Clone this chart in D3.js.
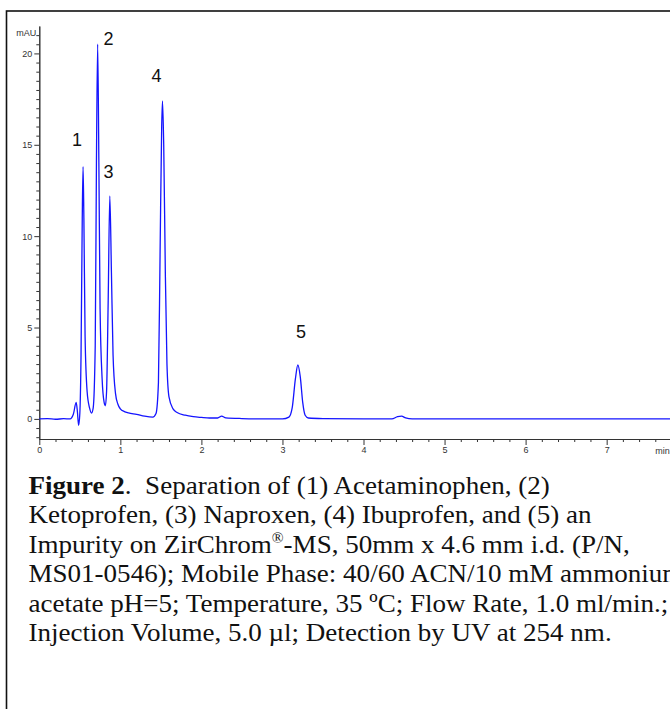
<!DOCTYPE html>
<html>
<head>
<meta charset="utf-8">
<script src="https://cdn.jsdelivr.net/npm/d3@7"></script>
<style>
  body { margin: 0; background: #fff; }
  svg { display: block; }
  .axis path, .axis line { stroke: #333; }
  .axis text { fill: #333; font-family: Arial, 'Liberation Sans', sans-serif; font-size: 9px; }
  .peak { font-family: Arial, 'Liberation Sans', sans-serif; font-size: 18px; fill: #111; }
  .caption { font-family: 'Liberation Serif', 'Times New Roman', serif; font-size: 26px; fill: #111; white-space: pre; }
</style>
</head>
<body>
<div id="chart"></div>
<script>
// chromatogram trace (time in min, signal in mAU)
const time = [0, 0.1, 0.2, 0.3, 0.38, 0.42, 0.455, 0.47, 0.485, 0.5, 0.515, 0.53, 0.54, 0.55, 0.565, 0.59, 0.62, 0.645,
  0.665, 0.69, 0.705, 0.72, 0.735, 0.75, 0.775, 0.8, 0.815, 0.83, 0.85, 0.87, 0.89, 0.91, 0.94, 0.97, 1.0, 1.05, 1.1,
  1.2, 1.3, 1.4, 1.44, 1.47, 1.49, 1.51, 1.52, 1.535, 1.555, 1.575, 1.6, 1.65, 1.7, 1.8, 1.9, 2.0, 2.1, 2.2, 2.25,
  2.3, 2.5, 2.8, 3.0, 3.08, 3.12, 3.16, 3.19, 3.22, 3.25, 3.28, 3.32, 3.5, 4.0, 4.35, 4.42, 4.47, 4.52, 4.6, 5, 6, 7, 7.8]
const signal = [0, 0.02, -0.02, 0.01, 0, 0.25, 0.9, 0.4, -0.35, 0.3, 3.5, 11, 13.8, 11, 4.5, 1.5, 0.6, 0.32,
  0.6, 4, 14, 20.5, 14, 6, 2.2, 0.9, 0.72, 1.5, 6.5, 12.2, 8, 3.5, 1.4, 0.8, 0.55, 0.4, 0.33,
  0.25, 0.15, 0.1, 0.3, 2, 9, 16, 17.4, 15, 8, 3, 1.2, 0.55, 0.35, 0.2, 0.12, 0.08, 0.05, 0.05, 0.15,
  0.06, 0.02, 0, 0, 0.1, 0.6, 2.2, 2.95, 2.3, 0.9, 0.2, 0.05, 0.02, 0, 0, 0.12, 0.15, 0.05, 0, 0, 0, 0, 0]

// peak labels, anchored in data units
const peakNames = ['1', '2', '3', '4', '5']
const labelTime = [0.465, 0.854, 0.854, 1.446, 3.229]
const labelSignal = [14.94, 20.47, 13.19, 18.45, 4.43]

const xTicks = [0, 1, 2, 3, 4, 5, 6, 7]
const yTicks = [0, 5, 10, 15, 20]

const captionLines = [
  [['Figure 2', 'bold'], ['.  Separation of (1) Acetaminophen, (2)', '']],
  [['Ketoprofen, (3) Naproxen, (4) Ibuprofen, and (5) an', '']],
  [['Impurity on ZirChrom', ''], ['®', 'sup'], ['-MS, 50mm x 4.6 mm i.d. (P/N,', '']],
  [['MS01-0546); Mobile Phase: 40/60 ACN/10 mM ammonium', '']],
  [['acetate pH=5; Temperature, 35 ºC; Flow Rate, 1.0 ml/min.;', '']],
  [['Injection Volume, 5.0 µl; Detection by UV at 254 nm.', '']]
]

const width = 670
const height = 709
const margin = {top: 26, right: 0, bottom: 270, left: 39.3}

const data = time.map(function (t, i) { return {x: t, y: signal[i]} })

const x = d3.scaleLinear().domain([0, 7.8]).range([margin.left, width + 1.5])
const y = d3.scaleLinear().domain([-1.1, 21.5]).range([height - margin.bottom, margin.top])

const svg = d3.select('#chart').append('svg')
    .attr('width', width)
    .attr('height', height)

// outer frame
svg.append('rect')
    .attr('x', 6.5).attr('y', 11)
    .attr('width', width + 20).attr('height', height + 20)
    .attr('fill', 'none').attr('stroke', '#111').attr('stroke-width', 1.6)

// minor ticks
const xMinor = d3.range(0, 7.81, 0.2).filter(function (v) { return Math.abs(v - Math.round(v)) > 0.01 })
const yMinor = d3.range(-1, 21.01, 0.5).filter(function (v) { return Math.abs(v / 5 - Math.round(v / 5)) > 0.01 })

svg.append('g')
    .attr('class', 'x axis minor')
    .attr('transform', 'translate(0,' + y.range()[0] + ')')
    .call(d3.axisBottom(x).tickValues(xMinor).tickSize(3).tickFormat('').tickSizeOuter(0))

svg.append('g')
    .attr('class', 'x axis')
    .attr('transform', 'translate(0,' + y.range()[0] + ')')
    .call(d3.axisBottom(x).tickValues(xTicks).tickSize(6).tickSizeOuter(0).tickPadding(2))

svg.append('g')
    .attr('class', 'y axis minor')
    .attr('transform', 'translate(' + x.range()[0] + ',0)')
    .call(d3.axisLeft(y).tickValues(yMinor).tickSize(3).tickFormat('').tickSizeOuter(0))

svg.append('g')
    .attr('class', 'y axis')
    .attr('transform', 'translate(' + x.range()[0] + ',0)')
    .call(d3.axisLeft(y).tickValues(yTicks).tickSize(5).tickSizeOuter(0).tickPadding(2))

svg.append('text')
    .attr('x', x.range()[0] - 3).attr('y', y.range()[1] + 10)
    .attr('text-anchor', 'end')
    .style('font-family', 'Arial, sans-serif').style('font-size', '9px').style('fill', '#333')
    .text('mAU')

svg.append('text')
    .attr('x', x(7.6)).attr('y', y.range()[0] + 15)
    .style('font-family', 'Arial, sans-serif').style('font-size', '9px').style('fill', '#333')
    .text('min')

// the trace
const line = d3.line()
    .x(function (d) { return x(d.x) })
    .y(function (d) { return y(d.y) })
    .curve(d3.curveMonotoneX)

svg.append('path')
    .datum(data)
    .attr('d', line)
    .attr('fill', 'none')
    .attr('stroke', '#1414ff')
    .attr('stroke-width', 1.3)

svg.selectAll('.peak')
    .data(peakNames)
  .enter().append('text')
    .attr('class', 'peak')
    .attr('x', function (d, i) { return x(labelTime[i]) })
    .attr('y', function (d, i) { return y(labelSignal[i]) })
    .attr('text-anchor', 'middle')
    .text(function (d) { return d })

// caption
const cap = svg.append('g').attr('transform', 'translate(28.5,494) scale(1.04,1)')
captionLines.forEach(function (parts, i) {
  const t = cap.append('text').attr('class', 'caption').attr('y', i * 29.4)
  parts.forEach(function (p) {
    const s = t.append('tspan').text(p[0])
    if (p[1] === 'bold') s.style('font-weight', 'bold')
    if (p[1] === 'sup') s.attr('dy', -10).style('font-size', '15px')
    else if (s.node().previousSibling && s.node().previousSibling.textContent === '®') s.attr('dy', 10)
  })
})
</script>
</body>
</html>
